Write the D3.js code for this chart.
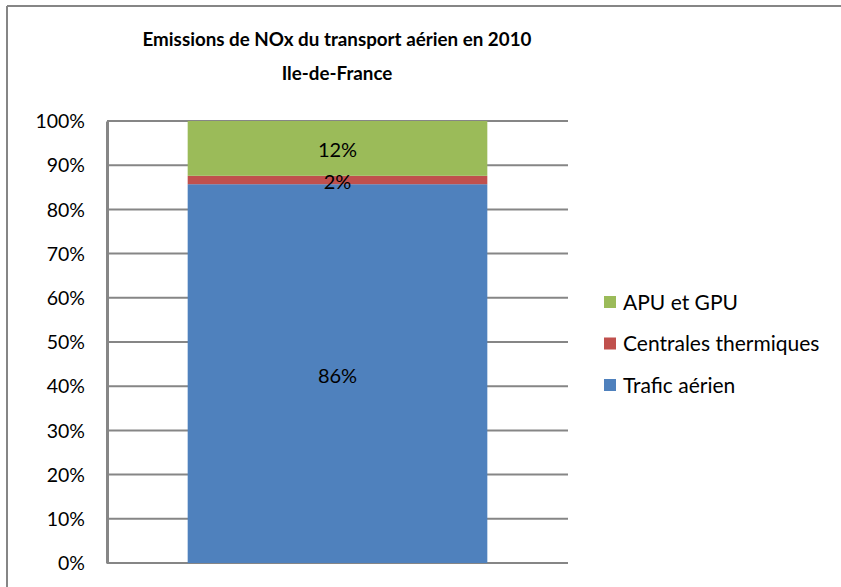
<!DOCTYPE html>
<html><head><meta charset="utf-8">
<script src="https://cdn.jsdelivr.net/npm/d3@7"></script>
<style>
html,body{margin:0;padding:0;background:#fff;}
text{font-family:Lato,"Open Sans",sans-serif;}
</style></head>
<body><svg id="c" width="841" height="587"></svg>
<script>
const categories = ["2010"];
const seriesNames = ["Trafic aérien", "Centrales thermiques", "APU et GPU"];
const seriesValues = [85.7, 1.9, 12.4];
const seriesLabels = ["86%", "2%", "12%"];
const seriesColors = ["#4F81BD", "#C0504D", "#9BBB59"];
const yTicks = [0, 10, 20, 30, 40, 50, 60, 70, 80, 90, 100];
const titleLines = ["Emissions de NOx du transport aérien en 2010", "Ile-de-France"];

const svg = d3.select("#c");
// chart border (top & left visible)
svg.append("line").attr("x1",7).attr("x2",841).attr("y1",6).attr("y2",6).attr("stroke","#868686").attr("stroke-width",2);
svg.append("line").attr("x1",7).attr("x2",7).attr("y1",6).attr("y2",587).attr("stroke","#868686").attr("stroke-width",2);

const m = {left:107, right:568, top:121, bottom:563};
const y = d3.scaleLinear().domain([0,100]).range([m.bottom, m.top]);
const x = d3.scaleBand().domain(categories).range([m.left, m.right]).paddingInner(0.35).paddingOuter(0.175);

// gridlines
svg.append("g").selectAll("line").data(yTicks).join("line")
  .attr("x1", m.left).attr("x2", m.right)
  .attr("y1", d=>y(d)).attr("y2", d=>y(d))
  .attr("stroke","#868686").attr("stroke-width",2);

// axis
const axis = svg.append("g").attr("transform",`translate(${m.left},0)`)
  .call(d3.axisLeft(y).tickValues(yTicks).tickFormat(d=>d+"%").tickSize(0).tickPadding(22));
axis.select(".domain").attr("stroke","#868686").attr("stroke-width",3);
axis.selectAll("text").attr("font-size",19.5).attr("fill","#000").attr("dy","0.34em");

// stacked bars
const stackData = [Object.fromEntries(seriesNames.map((n,i)=>[n,seriesValues[i]]))];
stackData[0].cat = categories[0];
const stack = d3.stack().keys(seriesNames)(stackData);
const g = svg.append("g");
stack.forEach((s,i)=>{
  s.forEach(d=>{
    g.append("rect").attr("x", x(d.data.cat)).attr("width", x.bandwidth())
      .attr("y", y(d[1])).attr("height", y(d[0])-y(d[1])).attr("fill", seriesColors[i]);
  });
});
stack.forEach((s,i)=>{
  s.forEach(d=>{
    g.append("text").attr("x", x(d.data.cat)+x.bandwidth()/2)
      .attr("y", (y(d[0])+y(d[1]))/2 + 2).attr("dy","0.35em")
      .attr("text-anchor","middle").attr("font-size",20).attr("fill","#000")
      .text(seriesLabels[i]);
  });
});

// title
svg.append("g").selectAll("text").data(titleLines).join("text")
  .attr("x",337).attr("y",(d,i)=>46+i*34)
  .attr("text-anchor","middle").attr("font-weight","bold").attr("font-size",18.8).attr("fill","#000")
  .text(d=>d);

// legend
const legOrder = [2,1,0];
const leg = svg.append("g");
legOrder.forEach((si,k)=>{
  const yy = 302 + k*41.5;
  leg.append("rect").attr("x",604).attr("y",yy-6).attr("width",12).attr("height",12).attr("fill",seriesColors[si]);
  leg.append("text").attr("x",623).attr("y",yy).attr("dy","0.36em").attr("font-size",21).attr("fill","#000").text(seriesNames[si]);
});
</script></body></html>
